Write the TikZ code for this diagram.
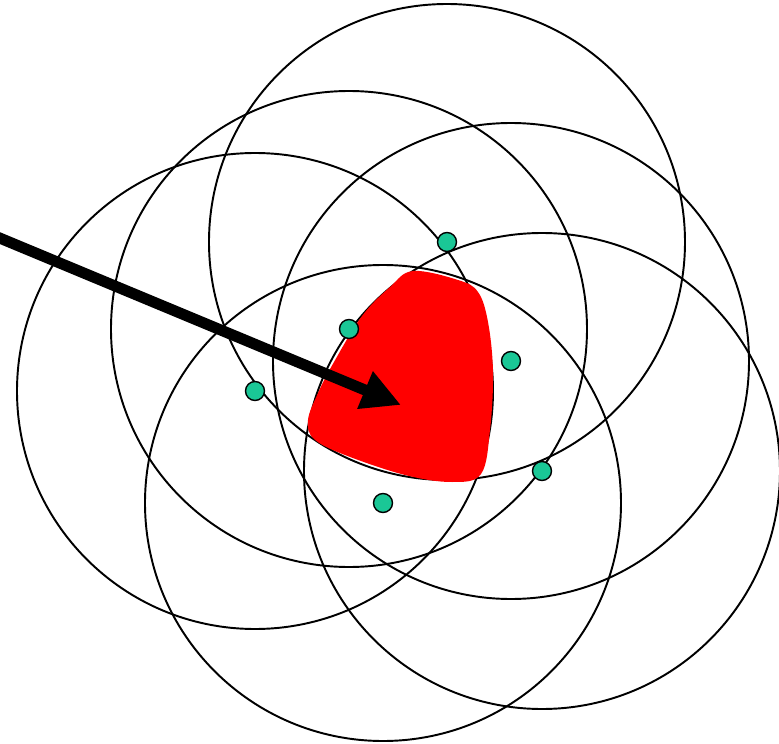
\documentclass[tikz,border=0pt]{standalone}
\usetikzlibrary{arrows.meta}
\definecolor{dotTeal}{HTML}{1AC796}
\definecolor{blobRed}{HTML}{FF0000}
\tikzset{
  coverage/.style={draw=black,line width=1.1pt},
  sensor/.style  ={circle,draw=black,line width=0.8pt,fill=dotTeal,
                   minimum size=0.38cm,inner sep=0pt},
  region/.style  ={fill=blobRed,draw=none},
  pointer/.style ={-{Triangle[length=0.78cm,width=0.76cm]},line width=0.22cm},
}
\begin{document}
\begin{tikzpicture}[x=0.02cm,y=-0.02cm]
\useasboundingbox (0,0) rectangle (779,744);
% sensor positions
\coordinate (c1) at (447,242);
\coordinate (c2) at (349,329);
\coordinate (c3) at (255,391);
\coordinate (c4) at (511,361);
\coordinate (c5) at (383,503);
\coordinate (c6) at (542,471);
% coverage circles
\foreach \i in {1,...,6}
  \draw[coverage] (c\i) circle[radius=238];
% overlap region
\fill[region] plot[smooth cycle,tension=0.6] coordinates {
  (413,271) (458,280) (478,292) (488,322) (493,372) (490,430)
  (481,474) (452,482) (405,475) (345,455) (314,439) (308,420)
  (318,393) (334,362) (362,316) (390,287)};
% sensors
\foreach \i in {1,...,6}
  \node[sensor] (s\i) at (c\i) {};
% arrow
\coordinate (from) at (-10,234);
\coordinate (tip) at (401,405);
\draw[pointer] (from) -- (tip);
\end{tikzpicture}
\end{document}
